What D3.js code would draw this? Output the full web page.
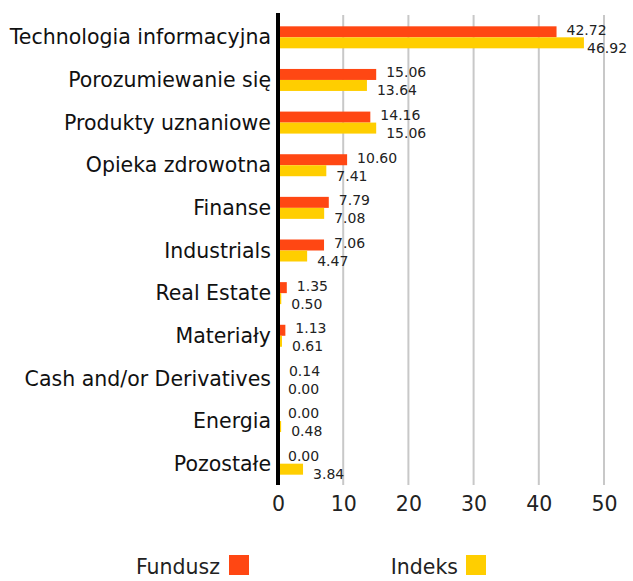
<!DOCTYPE html>
<html>
<head>
<meta charset="utf-8">
<script src="https://cdn.jsdelivr.net/npm/d3@7"></script>
<style>
  body { margin: 0; background: #fff; }
  svg { display: block; font-family: 'DejaVu Sans', sans-serif; }
</style>
</head>
<body>
<div id="chart"></div>
<script>
// Données
const categories = [
  'Technologia informacyjna', 'Porozumiewanie się', 'Produkty uznaniowe',
  'Opieka zdrowotna', 'Finanse', 'Industrials', 'Real Estate', 'Materiały',
  'Cash and/or Derivatives', 'Energia', 'Pozostałe'
]
const fundusz = [42.72, 15.06, 14.16, 10.60, 7.79, 7.06, 1.35, 1.13, 0.14, 0.00, 0.00]
const indeks  = [46.92, 13.64, 15.06, 7.41, 7.08, 4.47, 0.50, 0.61, 0.00, 0.48, 3.84]
const xTicks  = [0, 10, 20, 30, 40, 50]
const seriesNames = ['Fundusz', 'Indeks']

const COLORS = { Fundusz: '#ff4713', Indeks: '#ffce00' }
const FONT = "'DejaVu Sans', sans-serif"

const width = 633, height = 581
const m = { left: 278, right: 8, top: 16, bottom: 96 }
const innerH = height - m.top - m.bottom

const svg = d3.select('#chart').append('svg')
  .attr('width', width).attr('height', height)

const x = d3.scaleLinear().domain([0, 50]).range([m.left, m.left + 326])
const y = d3.scaleBand().domain(categories).range([m.top, m.top + innerH]).paddingInner(0).paddingOuter(0)
const barH = 11

// Grille verticale
svg.append('g')
  .selectAll('line')
  .data(xTicks.slice(1))
  .join('line')
  .attr('x1', d => x(d)).attr('x2', d => x(d))
  .attr('y1', m.top - 1).attr('y2', m.top + innerH)
  .attr('stroke', '#c8c8c8')
  .attr('stroke-width', 2)

// Axe X — labels seulement
svg.append('g')
  .attr('transform', `translate(0,${m.top + innerH})`)
  .call(d3.axisBottom(x).tickValues(xTicks).tickSize(0).tickPadding(11))
  .call(g => g.select('.domain').remove())
  .call(g => g.selectAll('.tick text')
    .attr('fill', '#222').attr('font-size', 20.5)
    .attr('font-family', FONT))

// Catégories
svg.append('g')
  .selectAll('text')
  .data(categories)
  .join('text')
  .attr('x', m.left - 7)
  .attr('y', d => y(d) + y.bandwidth() / 2)
  .attr('dy', '0.35em')
  .attr('text-anchor', 'end')
  .attr('font-size', 20.5)
  .attr('fill', '#111')
  .text(d => d)

// Barres
const series = [fundusz, indeks]
series.forEach((vals, si) => {
  const name = seriesNames[si]
  const rows = categories.map((c, i) => ({ c, v: vals[i] }))
  const yTop = d => y(d.c) + y.bandwidth() / 2 - barH + si * barH

  svg.append('g')
    .selectAll('rect')
    .data(rows)
    .join('rect')
    .attr('x', x(0))
    .attr('y', yTop)
    .attr('width', d => x(d.v) - x(0))
    .attr('height', barH)
    .attr('fill', COLORS[name])

  // Valeurs — décalées vers le bas pour l'indice
  svg.append('g')
    .selectAll('text')
    .data(rows)
    .join('text')
    .attr('x', d => Math.min(x(d.v) + 10, width - 46))
    .attr('y', d => yTop(d) + barH / 2 + (si === 0 ? -2 : 5))
    .attr('dy', '0.35em')
    .attr('font-size', 14)
    .attr('fill', '#222')
    .text(d => d.v.toFixed(2))
})

// Axe vertical noir
svg.append('line')
  .attr('x1', x(0)).attr('x2', x(0))
  .attr('y1', m.top - 3).attr('y2', m.top + innerH)
  .attr('stroke', '#000')
  .attr('stroke-width', 4)

// Légende
const legend = [
  { name: 'Fundusz', tx: 220, sx: 229 },
  { name: 'Indeks', tx: 458, sx: 466 }
]
legend.forEach(l => {
  svg.append('text')
    .attr('x', l.tx).attr('y', 574)
    .attr('text-anchor', 'end')
    .attr('font-size', 20.5)
    .attr('fill', '#222')
    .text(l.name)
  svg.append('rect')
    .attr('x', l.sx).attr('y', 555)
    .attr('width', 20).attr('height', 20)
    .attr('fill', COLORS[l.name])
})
</script>
</body>
</html>
